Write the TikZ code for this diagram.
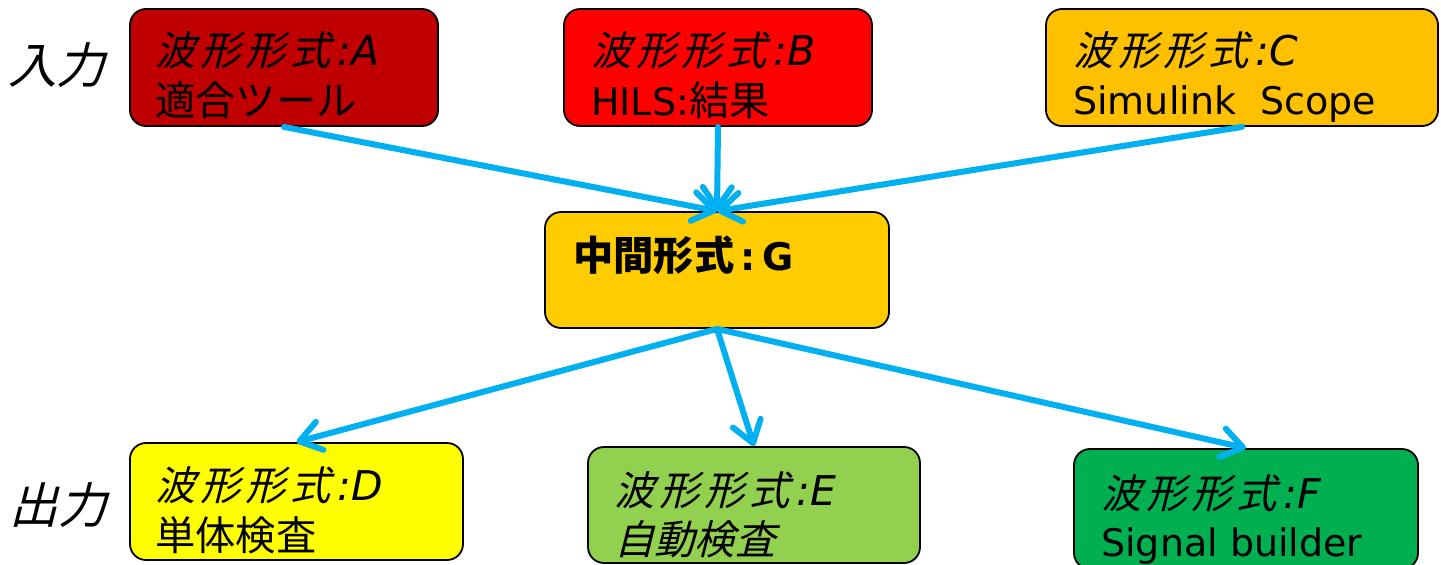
\documentclass[tikz,border=0pt]{standalone}
\usepackage{fontspec}
\setmainfont{DejaVu Sans}
\newfontfamily\cjk{Noto Sans CJK JP}[Scale=1.06]
\newfontfamily\cjki{Noto Sans CJK JP}[Scale=1.06, FakeSlant=0.25, LetterSpace=12]
\newfontfamily\cjks{Noto Sans CJK JP}[Scale=1.06, FakeSlant=0.25]
\usetikzlibrary{arrows.meta}
\definecolor{cA}{HTML}{C00000}
\definecolor{cB}{HTML}{FF0000}
\definecolor{cC}{HTML}{FFC000}
\definecolor{cG}{HTML}{FFCC00}
\definecolor{cD}{HTML}{FFFF00}
\definecolor{cE}{HTML}{92D050}
\definecolor{cF}{HTML}{00B050}
\definecolor{arrowc}{HTML}{00B0F0}
\newcommand{\wf}[1]{{\cjki 波形形式}\kern7pt{\itshape\fontsize{41}{46}\selectfont :#1}}
\newcommand{\twolines}[3]{\vtop{\baselineskip=#1pt\lineskiplimit=-1000pt\lineskip=0pt\hbox{#2}\hbox{#3}}}
\tikzset{
  box/.style={draw=black, line width=1.8pt, rounded corners=16pt, inner sep=0pt},
  flow/.style={draw=arrowc, line width=6pt, line cap=round, -{Straight Barb[length=21pt,width=29pt,round]}},
  lbl/.style={anchor=base west, inner sep=0pt, font=\fontsize{38}{46}\selectfont},
  side/.style={inner sep=0pt, font=\fontsize{46}{52}\selectfont},
}
\begin{document}
\begin{tikzpicture}[x=1pt,y=-1pt]
\clip (0,0) rectangle (1441,565);
\fill[white] (0,0) rectangle (1441,565);
% boxes
\node[box, fill=cA, minimum width=308pt, minimum height=117pt] (A) at (284,67.5) {};
\node[box, fill=cB, minimum width=308pt, minimum height=117pt] (B) at (718,67.5) {};
\node[box, fill=cC, minimum width=392pt, minimum height=117pt] (C) at (1242,67.5) {};
\node[box, fill=cG, minimum width=344pt, minimum height=116pt] (G) at (717,270) {};
\node[box, fill=cD, minimum width=333pt, minimum height=117pt] (D) at (296.5,501.5) {};
\node[box, fill=cE, minimum width=332pt, minimum height=116pt] (E) at (754,505) {};
\node[box, fill=cF, minimum width=344pt, minimum height=120pt] (F) at (1246,509) {};
% side labels
\node[side] (in) at (57,65) {\cjks 入力};
\node[side] (out) at (58,505) {\cjks 出力};
% texts
\node[lbl] (At) at (155,65) {\twolines{50}{\wf{A}}{\cjk 適合ツール}};
\node[lbl] (Bt) at (591,65) {\twolines{50}{\wf{B}}{HILS:{\cjk 結果}}};
\node[lbl] (Ct) at (1073,65) {\twolines{49}{\wf{C}}{Simulink\ \ Scope}};
\node[lbl] (Gt) at (573,270) {\bfseries{\cjk 中間形式}\,:\,G};
\node[lbl] (Dt) at (155,500) {\twolines{50}{\wf{D}}{\cjk 単体検査}};
\node[lbl] (Et) at (614,505) {\twolines{49}{\wf{E}}{\cjks 自動検査}};
\node[lbl] (Ft) at (1101,508) {\twolines{48}{\wf{F}}{Signal builder}};
% connectors
\draw[flow] (A.south) -- (G.north);
\draw[flow] (B.south) -- (G.north);
\draw[flow] (C.south) -- (G.north);
\draw[flow] (G.south) -- (D.north);
\draw[flow] (G.south) -- (E.north);
\draw[flow] (G.south) -- (F.north);
\end{tikzpicture}
\end{document}
